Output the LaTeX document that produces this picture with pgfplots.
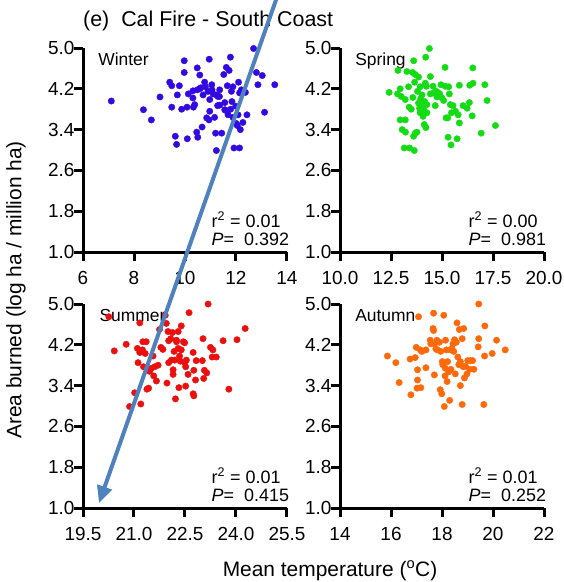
\documentclass[border=0pt]{standalone}
\usepackage{pgfplots}
\pgfplotsset{compat=1.18}
\usepackage{fontspec}
\setmainfont{Liberation Sans}
\usetikzlibrary{arrows.meta}
\definecolor{cwin}{RGB}{50,10,225}
\definecolor{cspr}{RGB}{20,220,20}
\definecolor{csum}{RGB}{235,15,15}
\definecolor{caut}{RGB}{255,105,10}
\definecolor{arrowblue}{RGB}{79,129,189}
\tikzset{
  lab/.style={anchor=base west, inner sep=0pt, font=\fontsize{17.5}{17.5}\selectfont},
  stat/.style={anchor=base west, inner sep=0pt, font=\fontsize{18}{18}\selectfont},
}
\pgfplotsset{
  panel/.style={
    scale only axis, width=204bp, height=204bp,
    anchor=south west,
    axis x line*=bottom, axis y line*=left,
    axis line style={-, line width=3bp, black},
    tick align=outside,
    major tick length=9bp,
    tick style={line width=3bp, black},
    ymin=1, ymax=5, ytick={1.0,1.8,2.6,3.4,4.2,5.0},
    yticklabel style={/pgf/number format/fixed, /pgf/number format/fixed zerofill, /pgf/number format/precision=1},
    /pgf/number format/assume math mode=true,
    ticklabel style={font=\fontsize{19}{19}\selectfont},
    xticklabel style={yshift=-7bp},
    yticklabel style={xshift=4bp},
    clip=false,
    every axis plot/.append style={only marks, mark=*, mark size=3.2bp},
  },
}
\begin{document}
\begin{tikzpicture}[x=1bp,y=1bp]
% Winter
\begin{axis}[panel, at={(83bp,-252bp)}, xmin=6, xmax=14, xtick={6,8,10,12,14}]
\addplot[cwin, mark options={fill=cwin, draw=cwin}] coordinates {
(7.11,3.96) (8.37,3.79) (8.68,3.59) (9.02,4.04) (9.40,4.33) (9.48,4.26) (9.48,3.84) (9.62,3.27)
(9.67,3.11) (9.78,4.26) (9.70,4.08) (9.87,3.80) (9.97,4.75) (9.97,4.52) (10.09,3.22) (10.08,3.84)
(10.13,4.10) (10.31,4.16) (10.31,4.02) (10.38,3.89) (10.46,3.35) (10.50,3.25) (10.48,4.61) (10.48,4.18)
(10.58,4.47) (10.58,4.20) (10.67,3.45) (10.71,4.08) (10.77,4.33) (10.80,4.24) (10.85,3.63) (10.94,3.59)
(10.95,4.78) (10.97,3.99) (10.97,3.76) (11.05,4.28) (11.06,4.18) (11.10,4.10) (11.16,3.64) (11.20,3.33)
(11.23,2.99) (11.23,4.08) (11.28,3.87) (11.29,4.05) (11.36,4.18) (11.36,3.88) (11.44,3.33) (11.52,4.48)
(11.56,3.79) (11.56,3.93) (11.62,4.62) (11.66,4.26) (11.69,3.69) (11.73,4.56) (11.78,4.82) (11.79,3.80)
(11.82,4.15) (11.84,3.95) (11.88,3.64) (11.88,4.24) (11.92,3.04) (11.99,3.86) (12.01,3.52) (12.05,3.48)
(12.08,3.69) (12.10,4.33) (12.14,3.04) (12.14,4.12) (12.17,3.40) (12.21,4.18) (12.27,3.54) (12.37,4.13)
(12.43,3.69) (12.69,4.99) (12.80,4.52) (12.86,4.28) (13.03,4.46) (13.12,3.74) (13.52,4.28)
(10.33,3.84) (10.62,4.22) (11.35,4.05) (11.58,3.78) (10.90,4.15)
};
\node[lab] at (rel axis cs:0.074,0.915) {Winter};
\node[stat] at (rel axis cs:0.63,0.1225) {r\textsuperscript{2} = 0.01};
\node[stat] at (rel axis cs:0.63,0.034) {\textit{P}=\ \ 0.392};
\end{axis}
% Spring
\begin{axis}[panel, at={(340bp,-252bp)}, xmin=10, xmax=20, xtick={10,12.5,15,17.5,20},
  xticklabel style={/pgf/number format/fixed, /pgf/number format/fixed zerofill, /pgf/number format/precision=1}]
\addplot[cspr, mark options={fill=cspr, draw=cspr}] coordinates {
(12.41,4.13) (12.82,4.10) (12.84,4.56) (12.95,4.20) (13.00,4.05) (12.95,3.59) (13.20,3.59) (13.05,3.40)
(13.21,3.35) (13.15,3.04) (13.41,3.04) (13.64,2.99) (13.20,3.99) (13.28,4.54) (13.36,4.24) (13.39,3.84)
(13.49,3.80) (13.56,4.52) (13.61,4.75) (13.57,4.03) (13.61,3.27) (13.69,3.33) (13.77,3.35) (13.66,4.33)
(13.69,4.48) (13.80,4.15) (13.85,4.43) (13.85,3.92) (13.90,3.82) (13.93,3.73) (13.93,4.24) (14.02,4.08)
(14.02,3.95) (14.07,3.66) (14.10,3.79) (14.13,3.50) (14.18,4.31) (14.20,4.82) (14.21,3.44) (14.23,4.25)
(14.26,3.73) (14.26,3.89) (14.38,4.99) (14.43,4.44) (14.43,4.10) (14.56,4.25) (14.59,4.12) (14.67,3.87)
(14.72,4.15) (14.75,4.04) (14.79,4.13) (14.89,4.10) (14.95,4.28) (15.00,4.02) (15.08,3.97) (15.15,4.62)
(15.16,4.25) (15.20,3.63) (15.28,3.63) (15.30,3.25) (15.33,4.24) (15.36,4.10) (15.41,3.89) (15.44,3.10)
(15.46,3.73) (15.54,3.87) (15.66,3.76) (15.74,3.22) (15.79,3.69) (15.85,3.53) (15.85,4.27) (16.03,3.87)
(16.23,3.82) (16.34,3.93) (16.36,4.27) (16.48,3.67) (16.52,4.31) (16.51,4.61) (16.92,3.33) (17.10,4.28)
(17.21,3.97) (17.62,3.48) (14.00,3.85) (14.15,3.95) (13.95,4.00)
};
\node[lab] at (rel axis cs:0.074,0.915) {Spring};
\node[stat] at (rel axis cs:0.63,0.1225) {r\textsuperscript{2} = 0.00};
\node[stat] at (rel axis cs:0.63,0.034) {\textit{P}=\ \ 0.981};
\end{axis}
% Summer
\begin{axis}[panel, at={(83bp,-508bp)}, xmin=19.5, xmax=25.5, xtick={19.5,21,22.5,24,25.5},
  xticklabel style={/pgf/number format/fixed, /pgf/number format/fixed zerofill, /pgf/number format/precision=1}]
\addplot[csum, mark options={fill=csum, draw=csum}] coordinates {
(20.26,4.75) (20.42,4.08) (20.77,4.21) (20.87,2.99) (21.02,3.26) (21.10,4.13) (21.12,3.85) (21.20,3.04)
(21.17,4.63) (21.17,4.05) (21.25,4.10) (21.26,4.26) (21.28,3.77) (21.33,4.03) (21.36,4.26) (21.38,3.33)
(21.43,3.35) (21.46,3.68) (21.51,3.74) (21.56,3.98) (21.58,3.59) (21.61,3.77) (21.66,3.49) (21.71,3.80)
(21.75,4.50) (21.79,4.15) (21.85,4.11) (21.92,4.78) (21.95,4.62) (21.97,3.45) (22.00,4.46) (22.02,4.28)
(22.02,3.85) (22.08,4.32) (22.10,3.90) (22.13,4.44) (22.15,3.71) (22.15,3.62) (22.18,4.07) (22.20,3.90)
(22.22,3.14) (22.25,4.29) (22.25,4.26) (22.30,4.13) (22.30,4.46) (22.32,3.36) (22.34,3.98) (22.36,3.88)
(22.39,4.57) (22.39,4.10) (22.45,4.26) (22.49,4.24) (22.49,3.85) (22.52,3.77) (22.52,3.39) (22.54,3.90)
(22.59,3.62) (22.62,4.83) (22.74,4.05) (22.74,3.24) (22.76,3.70) (22.76,3.20) (22.81,3.51) (22.83,3.89)
(23.01,3.89) (23.03,4.32) (23.05,3.54) (23.07,3.70) (23.14,3.65) (23.18,5.00) (23.25,4.15) (23.32,4.10)
(23.30,3.96) (23.42,3.96) (23.62,4.28) (23.79,3.33) (24.03,4.30) (24.27,4.52)
};
\node[lab] at (rel axis cs:0.08,0.915) {Summer};
\node[stat] at (rel axis cs:0.63,0.1225) {r\textsuperscript{2} = 0.01};
\node[stat] at (rel axis cs:0.63,0.034) {\textit{P}=\ \ 0.415};
\end{axis}
% Autumn
\begin{axis}[panel, at={(340bp,-508bp)}, xmin=14, xmax=22, xtick={14,16,18,20,22}]
\addplot[caut, mark options={fill=caut, draw=caut}] coordinates {
(15.86,3.98) (16.19,3.85) (16.32,3.46) (16.75,3.92) (16.78,3.22) (16.95,3.95) (16.99,4.15) (17.02,3.35)
(17.04,3.51) (17.04,3.71) (17.08,4.75) (17.15,4.10) (17.17,3.36) (17.21,4.07) (17.37,4.10) (17.37,3.75)
(17.54,4.29) (17.56,4.22) (17.65,4.52) (17.67,4.82) (17.67,4.48) (17.70,3.61) (17.71,4.22) (17.76,4.12)
(17.80,4.29) (17.82,4.10) (17.90,4.25) (17.93,3.32) (17.95,4.07) (17.99,3.24) (18.01,3.87) (18.03,3.81)
(18.07,4.78) (18.09,2.99) (18.12,3.59) (18.13,3.74) (18.14,4.29) (18.17,4.10) (18.20,3.48) (18.22,3.87)
(18.26,3.67) (18.30,3.11) (18.33,4.10) (18.35,3.72) (18.39,4.13) (18.43,4.22) (18.46,4.07) (18.49,4.30)
(18.52,3.63) (18.56,4.25) (18.59,4.63) (18.62,3.96) (18.66,3.81) (18.68,4.50) (18.72,3.87) (18.72,3.40)
(18.79,3.03) (18.79,4.32) (18.83,3.77) (18.85,4.52) (18.88,3.55) (18.92,3.78) (18.98,3.63) (19.01,3.89)
(19.09,3.72) (19.11,3.89) (19.20,3.89) (19.25,3.72) (19.42,4.16) (19.44,5.00) (19.44,4.32) (19.64,3.03)
(19.67,3.98) (19.68,4.57) (19.97,4.03) (20.14,4.29) (20.48,4.10)
};
\node[lab] at (rel axis cs:0.074,0.915) {Autumn};
\node[stat] at (rel axis cs:0.63,0.1225) {r\textsuperscript{2} = 0.01};
\node[stat] at (rel axis cs:0.63,0.034) {\textit{P}=\ \ 0.252};
\end{axis}
% titles and labels
\node[anchor=base west, inner sep=0pt, font=\fontsize{21.5}{21.5}\selectfont] at (83bp,-26bp) {(e)\ \ Cal Fire - South Coast};
\node[rotate=90, font=\fontsize{21}{21}\selectfont] at (16bp,-290bp) {Area burned (log ha / million ha)};
\node[anchor=base, font=\fontsize{21}{21}\selectfont] at (330bp,-576bp) {Mean temperature (\textsuperscript{o}C)};
% annotation arrow
\draw[line width=4bp, arrowblue, -{Triangle[length=17bp, width=15bp]}] (279.5bp,10bp) -- (99bp,-503bp);
\pgfresetboundingbox
\path[use as bounding box] (0,0) rectangle (564bp,-582bp);
\end{tikzpicture}
\end{document}
